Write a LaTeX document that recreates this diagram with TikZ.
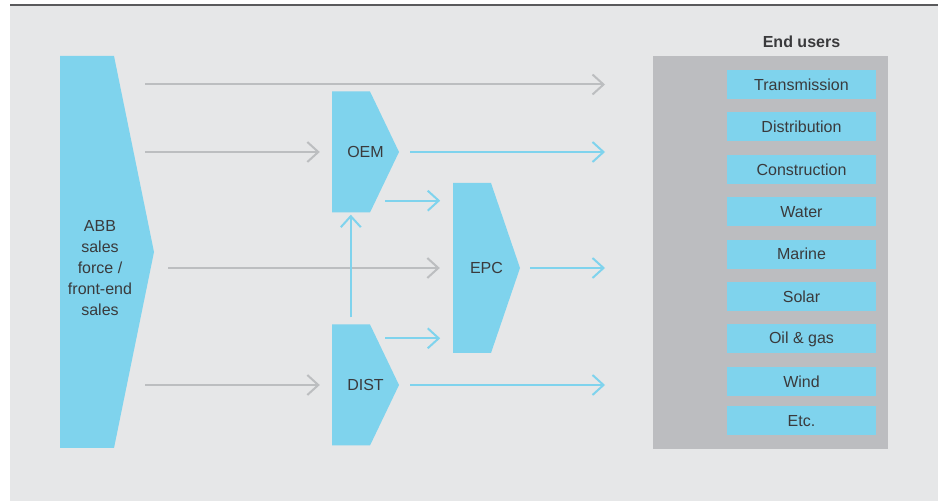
\documentclass[tikz,border=0pt]{standalone}
\usepackage{fontspec}
\setmainfont{Liberation Sans}
\usetikzlibrary{arrows.meta, positioning}
\definecolor{abbblue}{HTML}{7FD3ED}
\definecolor{bggray}{HTML}{E6E7E8}
\definecolor{panelgray}{HTML}{BCBDC0}
\definecolor{linegray}{HTML}{BCBEC0}
\definecolor{txtgray}{HTML}{3A3A3C}
\definecolor{rulegray}{HTML}{5A5A5C}
\tikzset{
    chantext/.style={text=txtgray, font=\fontsize{16}{21}\selectfont, align=center},
    chevron/.style={chantext, minimum width=67pt, inner sep=0pt,
        path picture={\fill[abbblue] (path picture bounding box.north west) -- ([xshift=-#1]path picture bounding box.north east) -- (path picture bounding box.east) -- ([xshift=-#1]path picture bounding box.south east) -- (path picture bounding box.south west) -- cycle;}},
    userbox/.style={rectangle, fill=abbblue, text=txtgray, minimum width=149pt, minimum height=29pt, inner sep=0pt, font=\fontsize{16}{19}\selectfont},
    grayarrow/.style={line width=2pt, draw=linegray, -{Straight Barb[length=11pt, width=20pt]}},
    bluearrow/.style={line width=2pt, draw=abbblue, -{Straight Barb[length=11pt, width=20pt]}}
}

\begin{document}
\begin{tikzpicture}[x=1pt, y=-1pt, node distance=13pt]
    \useasboundingbox (0,0) rectangle (938,502);
    \fill[bggray] (10,5) rectangle (938,501);
    \draw[rulegray, line width=2pt] (10,5) -- (938,5);

    % sales channels
    \node (abb) [chevron=40pt, minimum width=94pt, minimum height=392pt, label={[chantext, xshift=-7pt, yshift=-16pt]center:ABB\\sales\\force /\\front-end\\sales}] at (107,252) {};
    \node (oem) [chevron=29pt, minimum height=121pt] at (365.5,152) {OEM};
    \node (epc) [chevron=29pt, minimum height=170pt] at (486.5,268) {EPC};
    \node (dist) [chevron=29pt, minimum height=121pt] at (365.5,385) {DIST};

    % end users
    \node (users) [rectangle, fill=panelgray, minimum width=235pt, minimum height=393pt] at (770.5,252.5) {};
    \node (head) [text=txtgray, font=\fontsize{16}{19}\selectfont\bfseries] at (801.5,42) {End users};
    \node (trans) [userbox] at (801.5,84.5) {Transmission};
    \node (distr) [userbox, below=of trans] {Distribution};
    \node (constr) [userbox, below=of distr] {Construction};
    \node (water) [userbox, below=of constr] {Water};
    \node (marine) [userbox, below=of water] {Marine};
    \node (solar) [userbox, below=of marine] {Solar};
    \node (oil) [userbox, below=of solar] {Oil \& gas};
    \node (wind) [userbox, below=of oil] {Wind};
    \node (etc) [userbox, below=10pt of wind] {Etc.};

    \coordinate (abbout) at (145,0);
    \coordinate (userin) at (605,0);

    \draw[grayarrow] (abbout |- trans) -- (userin |- trans);
    \draw[grayarrow, shorten >=12pt] (abbout |- oem) -- (oem.west);
    \draw[grayarrow, shorten <=14pt, shorten >=13pt] (abb.east |- epc) -- (epc.west);
    \draw[grayarrow, shorten >=12pt] (abbout |- dist) -- (dist.west);

    \draw[bluearrow, shorten <=11pt] (oem.east) -- (userin |- oem);
    \draw[bluearrow, shorten <=10pt] (epc.east) -- (userin |- epc);
    \draw[bluearrow, shorten <=11pt] (dist.east) -- (userin |- dist);
    \draw[bluearrow, shorten <=7pt, shorten >=2pt] ([xshift=19pt]dist.north west) -- ([xshift=19pt]oem.south west);
    \draw[bluearrow] ([xshift=-14pt, yshift=12pt]oem.south east) -- +(55pt,0);
    \draw[bluearrow] ([xshift=-14pt, yshift=-14pt]dist.north east) -- +(55pt,0);
\end{tikzpicture}
\end{document}
